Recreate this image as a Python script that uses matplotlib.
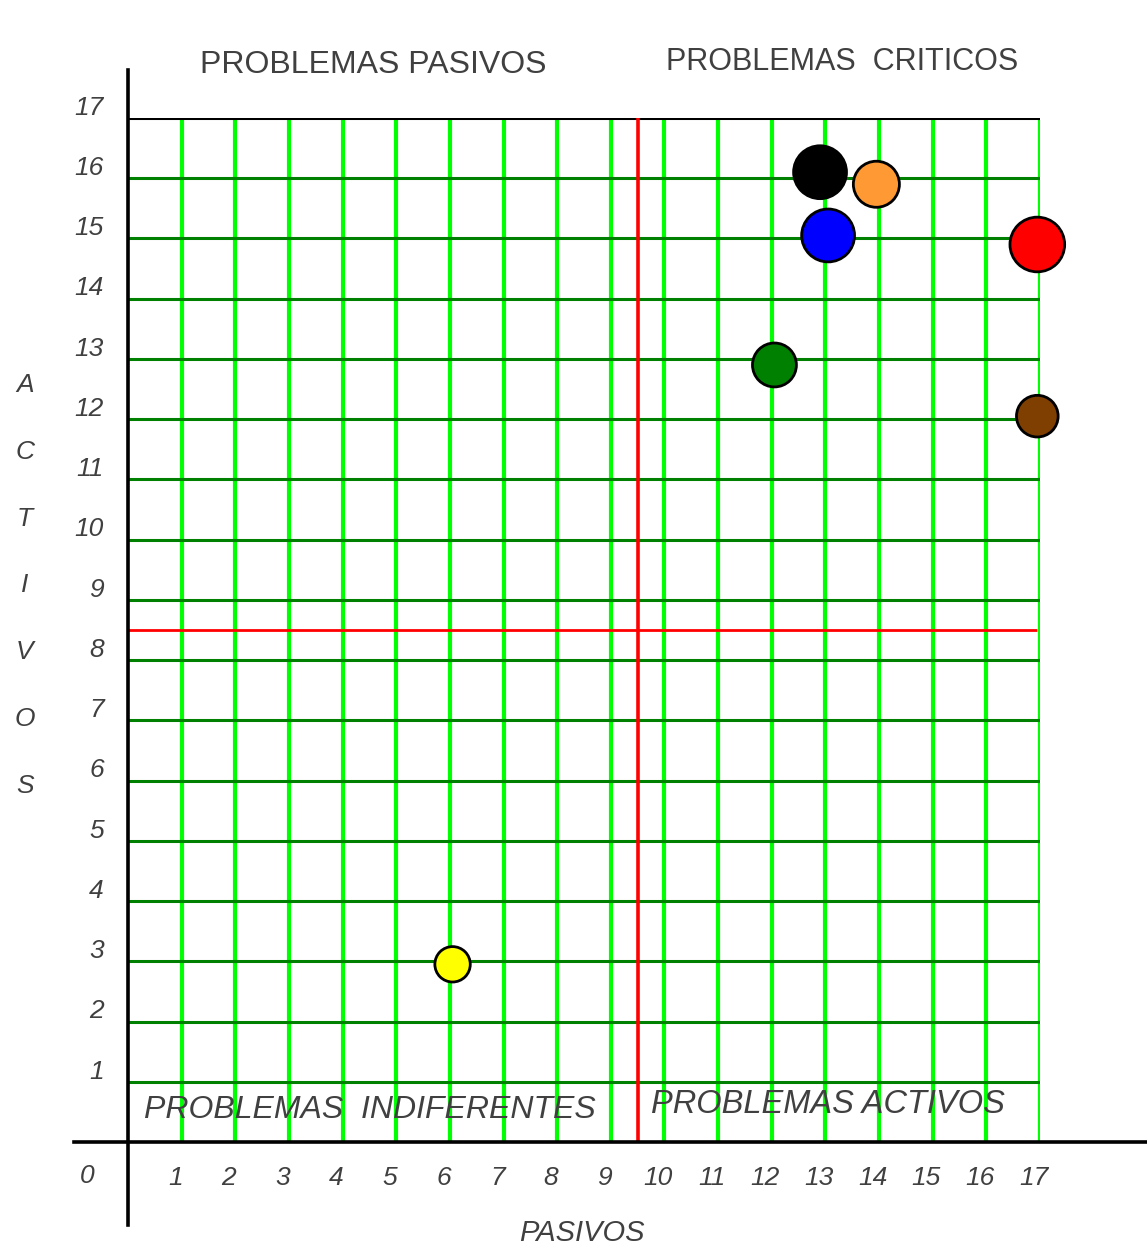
import matplotlib
matplotlib.use('Agg')
import matplotlib.pyplot as plt

# datos de la matriz de Vester (pasivos / activos)
x_ticks = list(range(1, 18))
y_ticks = list(range(1, 18))
pasivos = [12.9, 13.95, 13.05, 16.95, 12.05, 16.95, 6.05]
activos = [16.1, 15.9, 15.05, 14.9, 12.9, 12.05, 2.95]
corte_x = 9.5
corte_y = 8.5
cuadrantes = ['PROBLEMAS PASIVOS', 'PROBLEMAS  CRITICOS',
              'PROBLEMAS  INDIFERENTES', 'PROBLEMAS ACTIVOS']
eje_y = 'ACTIVOS'
eje_x = 'PASIVOS'

dot_colors = ['#000000', '#FF9933', '#0000FF', '#FF0000', '#008000', '#7F3F00', '#FFFF00']
dot_sizes = [1450, 1100, 1450, 1550, 1000, 900, 650]

fuente = ['Liberation Sans', 'DejaVu Sans']
estrecha = ['Liberation Sans Narrow', 'Liberation Sans', 'DejaVu Sans']
gris = '#404040'

fig = plt.figure(figsize=(11.47, 12.48), dpi=100)
W, H = 1147, 1248
ax = fig.add_axes([128 / W, (H - 1142) / H, (1040 - 128) / W, (1142 - 118) / H])
ax.set_xlim(0, 17)
ax.set_ylim(0, 17)
ax.axis('off')

# rejilla
ax.vlines(x_ticks, 0, 17, colors='#00FF00', linewidth=3.0, zorder=1)
ax.hlines(y_ticks[:-1], 0, 17.05, colors='#008000', linewidth=2.2, zorder=2)
ax.hlines(y_ticks[-1], 0, 17.05, colors='black', linewidth=2.2, zorder=2)

# lineas de corte
ax.hlines(corte_y, 0, 16.95, colors='#FF0000', linewidth=2.0, zorder=3)
ax.vlines(corte_x, 0, 17, colors='#FF0000', linewidth=2.6, zorder=3)

# ejes
ax.plot([-1, 19], [0, 0], color='black', linewidth=2.6, clip_on=False, zorder=4)
ax.plot([0, 0], [-1.38, 17.8], color='black', linewidth=2.6, clip_on=False, zorder=4)

# puntos
ax.scatter(pasivos, activos, s=dot_sizes, c=dot_colors, edgecolors='black',
           linewidths=2.0, zorder=5, clip_on=False)

# etiquetas de los ejes
for k in x_ticks:
    ax.text(k - 0.12, -0.6, str(k), ha='center', va='center', fontsize=19,
            style='italic', color=gris, family=estrecha)
for k in y_ticks:
    ax.text(-0.45, k + 0.17, str(k), ha='right', va='center', fontsize=19,
            style='italic', color=gris, family=estrecha)
ax.text(-0.76, -0.56, '0', ha='center', va='center', fontsize=19,
        style='italic', color=gris, family=estrecha)

for i, letra in enumerate(eje_y):
    ax.text(-1.92, 12.57 - i * 1.11, letra, ha='center', va='center', fontsize=19,
            style='italic', color=gris, family=fuente, clip_on=False)
ax.text(8.46, -1.51, eje_x, ha='center', va='center', fontsize=21,
        style='italic', color=gris, family=estrecha)

# cuadrantes
ax.text(4.58, 17.88, cuadrantes[0], ha='center', va='center', fontsize=23,
        color=gris, family=fuente)
ax.text(13.31, 17.93, cuadrantes[1], ha='center', va='center', fontsize=22,
        color=gris, family=fuente)
ax.text(4.51, 0.53, cuadrantes[2], ha='center', va='center', fontsize=23,
        style='italic', color=gris, family=estrecha)
ax.text(13.05, 0.63, cuadrantes[3], ha='center', va='center', fontsize=23.5,
        style='italic', color=gris, family=estrecha)

fig.savefig('out.png', dpi=100)
